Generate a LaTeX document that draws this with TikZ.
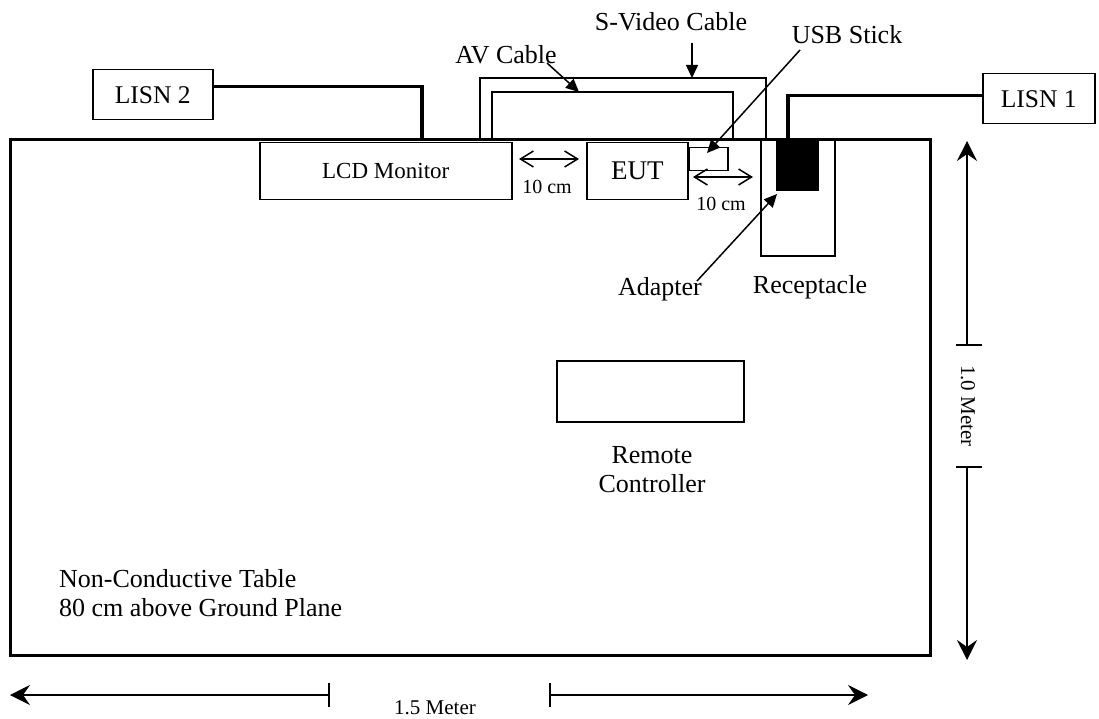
\documentclass[tikz,border=0pt]{standalone}
\usepackage{fontspec}
\setmainfont{Liberation Serif}
\usetikzlibrary{arrows.meta}
\tikzset{
  big/.style={font=\fontsize{26}{29}\selectfont, inner sep=0pt},
  mid/.style={font=\fontsize{23}{27}\selectfont, inner sep=0pt},
  small/.style={font=\fontsize{20}{24}\selectfont, inner sep=0pt},
  dimtxt/.style={font=\fontsize{21}{24}\selectfont, inner sep=0pt},
  box/.style={draw, line width=1.5pt, inner sep=0pt, anchor=north west},
  cable/.style={line width=3.2pt},
  avline/.style={line width=1.5pt},
  pointer/.style={line width=1.5pt, -{Triangle[length=13pt,width=12pt]}},
  gap/.style={line width=1.5pt, {Straight Barb[length=13pt,width=16pt]}-{Straight Barb[length=13pt,width=16pt]}},
  dim/.style={line width=1.3pt, -{Stealth[length=20pt,width=20pt,inset=7pt]}},
  tick/.style={line width=1.3pt}
}
\begin{document}
\begin{tikzpicture}[x=1pt,y=-1pt]
\useasboundingbox (0,0) rectangle (1099,719);

% table
\draw[line width=3pt] (10,140) rectangle (930,655);

% boxes
\node[box, minimum width=120pt, minimum height=50pt, font=\fontsize{25.5}{29}\selectfont] (lisn2) at (92,69) {LISN 2};
\node[box, minimum width=112pt, minimum height=50pt, font=\fontsize{25.5}{29}\selectfont] (lisn1) at (982,73) {LISN 1};
\node[box, minimum width=252pt, minimum height=57pt, font=\fontsize{23}{27}\selectfont] (lcd) at (259,142) {LCD Monitor};
\node[box, minimum width=101pt, minimum height=57pt, font=\fontsize{27}{30}\selectfont] (eut) at (586,142) {EUT};
\node[box, minimum width=39pt, minimum height=23pt] (usb) at (688,147) {};
\node[box, minimum width=74pt, minimum height=115pt] (rec) at (760,140) {};
\node[box, fill=black, minimum width=41pt, minimum height=50pt] (adp) at (776,140) {};
\node[box, minimum width=187pt, minimum height=61pt] (remote) at (556,360) {};

% power cables
\coordinate (lcdin) at (422,140);
\coordinate (adpin) at (788,140);
\draw[cable] ([yshift=8pt]lisn2.east) -| (lcdin);
\draw[cable] ([yshift=3pt]lisn1.west) -| (adpin);

% S-Video and AV cables
\coordinate (sv1) at (480,140);
\coordinate (sv2) at (766,140);
\coordinate (av1) at (492,140);
\coordinate (av2) at (733,140);
\draw[avline] (sv1) -- (480,78) -- (766,78) -- (sv2);
\draw[avline] (av1) -- (492,92) -- (733,92) -- (av2);

% labels with pointers
\node[big, anchor=base] (svl) at (671,31) {S-Video Cable};
\node[big, anchor=base] (avl) at (506,64) {AV Cable};
\node[big, anchor=base] (usbl) at (847,44) {USB Stick};
\node[big, anchor=base] (adl) at (660,295) {Adapter};
\node[big, anchor=base] (recl) at (810,293) {Receptacle};
\coordinate (svtail) at (692,43);
\coordinate (svhead) at (692,78);
\coordinate (avtail) at (547,63);
\coordinate (avhead) at (579,92);
\coordinate (usbtail) at (800,50);
\coordinate (usbhead) at (707,153);
\coordinate (adtail) at (697,281);
\coordinate (adhead) at (777,194);
\draw[pointer] (svtail) -- (svhead);
\draw[pointer] (avtail) -- (avhead);
\draw[pointer] (usbtail) -- (usbhead);
\draw[pointer] (adtail) -- (adhead);

% 10 cm gaps
\coordinate (g1a) at (519,159);
\coordinate (g1b) at (579,159);
\coordinate (g2a) at (693,177);
\coordinate (g2b) at (753,177);
\draw[gap] (g1a) -- (g1b);
\draw[gap] (g2a) -- (g2b);
\node[small, anchor=base] (t1) at (547,194) {10 cm};
\node[small, anchor=base] (t2) at (721,211) {10 cm};

% remote label
\node[big, anchor=base] (rl1) at (652,463) {Remote};
\node[big, anchor=base] (rl2) at (652,492) {Controller};

% table label
\node[big, anchor=base west] (tl1) at (59,587) {Non-Conductive Table};
\node[big, anchor=base west] (tl2) at (59,616) {80 cm above Ground Plane};

% vertical dimension
\coordinate (vt) at (967,345);
\coordinate (vb) at (967,467);
\coordinate (vtop) at (967,141);
\coordinate (vbot) at (967,660);
\draw[tick] (956,345) -- (982,345);
\draw[tick] (956,467) -- (982,467);
\draw[dim] (vt) -- (vtop);
\draw[dim] (vb) -- (vbot);
\node[dimtxt, rotate=-90] (vm) at (968,406) {1.0 Meter};

% horizontal dimension
\coordinate (hl) at (329,695);
\coordinate (hr) at (550,695);
\coordinate (hleft) at (10,695);
\coordinate (hright) at (868,695);
\draw[tick] (329,683) -- (329,707);
\draw[tick] (550,683) -- (550,707);
\draw[dim] (hl) -- (hleft);
\draw[dim] (hr) -- (hright);
\node[dimtxt] (hm) at (435,708) {1.5 Meter};
\end{tikzpicture}
\end{document}
